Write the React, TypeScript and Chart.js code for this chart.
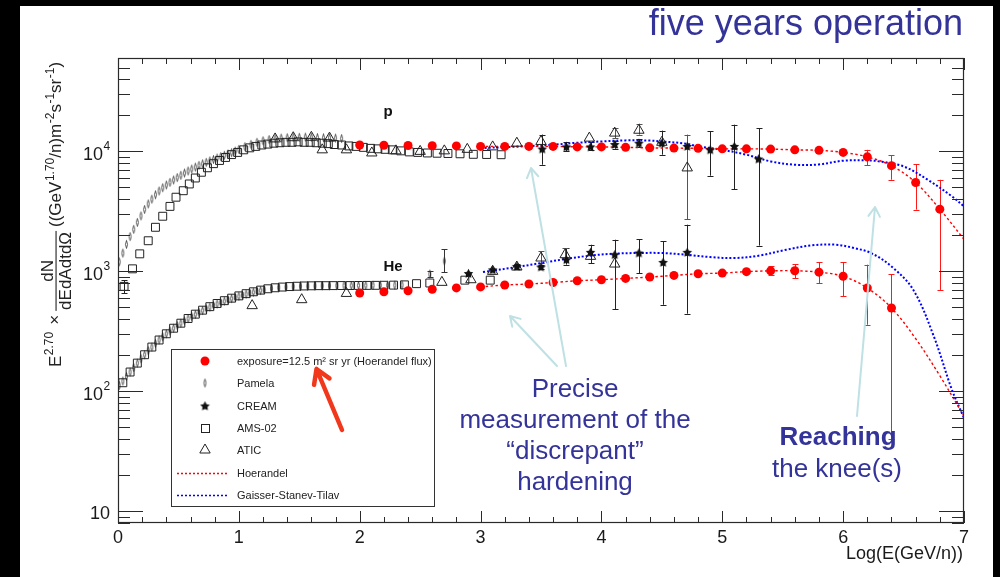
import React, { useEffect, useRef } from 'react';
import { Chart, registerables } from 'chart.js';

Chart.register(...registerables);

const FONT = '"Liberation Sans", Arial, Helvetica, sans-serif';

// ---------- simulated five-year measurement (Hoerandel flux), x = log10(E / GeV per nucleon)
const exposureLogE = [2.0, 2.2, 2.4, 2.6, 2.8, 3.0, 3.2, 3.4, 3.6, 3.8, 4.0, 4.2, 4.4, 4.6, 4.8, 5.0, 5.2, 5.4, 5.6, 5.8, 6.0, 6.2, 6.4, 6.6, 6.8];
const protonExposure = [11300, 11250, 11200, 11150, 11100, 11000, 11000, 11000, 11000, 10900, 10900, 10800, 10700, 10650, 10600, 10500, 10500, 10450, 10300, 10200, 9800, 9000, 7600, 5500, 3300];
const protonExposureErrLogE = [6.0, 6.2, 6.4, 6.6, 6.8];
const protonExposureErrLow = [9500, 7640, 5800, 3270, 700];
const protonExposureErrHigh = [10100, 10300, 9260, 7840, 5800];

const heliumExposureLogE = [2.0, 2.2, 2.4, 2.6, 2.8, 3.0, 3.2, 3.4, 3.6, 3.8, 4.0, 4.2, 4.4, 4.6, 4.8, 5.0, 5.2, 5.4, 5.6, 5.8, 6.0, 6.2, 6.4];
const heliumExposure = [660, 675, 690, 710, 728, 742, 770, 784, 808, 835, 852, 874, 897, 925, 955, 968, 995, 1010, 1012, 985, 910, 727, 495];
const heliumExposureErrLogE = [5.2, 5.4, 5.6, 5.8, 6.0, 6.2, 6.4];
const heliumExposureErrLow = [965, 938, 880, 800, 619, 359, 40];
const heliumExposureErrHigh = [1030, 1100, 1151, 1196, 1196, 1137, 950];

// ---------- Pamela
const pamelaProtonLogE = [0.01, 0.04, 0.07, 0.10, 0.13, 0.16, 0.19, 0.22, 0.25, 0.28, 0.31, 0.34, 0.37, 0.40, 0.43, 0.46, 0.49, 0.52, 0.55, 0.58, 0.61, 0.64, 0.67, 0.70, 0.73, 0.76, 0.79, 0.82, 0.85, 0.88, 0.91, 0.94, 0.97, 1.00, 1.05, 1.10, 1.15, 1.20, 1.25, 1.30, 1.35, 1.40, 1.45, 1.50, 1.55, 1.60, 1.65, 1.70, 1.75, 1.80, 1.85];
const pamelaProton = [1200, 1420, 1680, 1950, 2240, 2560, 2900, 3280, 3650, 4000, 4350, 4680, 4980, 5250, 5520, 5780, 6050, 6320, 6600, 6870, 7130, 7400, 7650, 7880, 8100, 8330, 8560, 8800, 9040, 9280, 9520, 9760, 10050, 10400, 10950, 11450, 11900, 12250, 12550, 12750, 12900, 13000, 13100, 13100, 13150, 13100, 13050, 13000, 13000, 12900, 12800];

const pamelaHeliumLogE = [0.01, 0.04, 0.07, 0.10, 0.13, 0.16, 0.19, 0.22, 0.25, 0.28, 0.31, 0.34, 0.37, 0.40, 0.43, 0.46, 0.49, 0.52, 0.55, 0.58, 0.61, 0.64, 0.67, 0.70, 0.73, 0.76, 0.79, 0.82, 0.85, 0.88, 0.91, 0.94, 0.97, 1.00, 1.03, 1.06, 1.09, 1.12, 1.15, 1.18, 1.21, 1.27, 1.33, 1.39, 1.45, 1.51, 1.57, 1.63, 1.69, 1.75, 1.81, 1.87, 1.93, 1.99, 2.05, 2.11, 2.17, 2.23, 2.29, 2.35, 2.58, 2.70];
const pamelaHelium = [112, 122, 133, 145, 158, 172, 187, 202, 218, 234, 251, 268, 285, 302, 319, 336, 353, 370, 387, 404, 421, 438, 455, 472, 488, 504, 520, 535, 550, 565, 579, 593, 607, 620, 633, 646, 658, 670, 681, 692, 702, 720, 733, 742, 748, 752, 755, 757, 759, 760, 761, 762, 762, 763, 764, 765, 766, 767, 768, 770, 950, 1220];
const pamelaHeliumErrLogE = [2.58, 2.70];
const pamelaHeliumErrLow = [900, 979];
const pamelaHeliumErrHigh = [1010, 1527];

// ---------- CREAM
const creamProtonLogE = [3.51, 3.71, 3.91, 4.11, 4.31, 4.50, 4.71, 4.90, 5.10, 5.30];
const creamProton = [10460, 10900, 10900, 11400, 11700, 11700, 11000, 10300, 11000, 8630];
const creamProtonErrLogE = [3.51, 3.71, 3.91, 4.11, 4.31, 4.50, 4.90, 5.10, 5.30];
const creamProtonErrLow = [7740, 10000, 10200, 10500, 10800, 9380, 6270, 4850, 1640];
const creamProtonErrHigh = [13800, 12000, 11900, 12300, 12600, 14900, 14700, 16700, 15600];

const creamHeliumLogE = [2.90, 3.10, 3.30, 3.50, 3.71, 3.91, 4.11, 4.31, 4.51, 4.71];
const creamHelium = [960, 1030, 1100, 1087, 1250, 1440, 1377, 1422, 1188, 1440];
const creamHeliumErrLogE = [3.30, 3.50, 3.71, 3.91, 4.11, 4.31, 4.51, 4.71];
const creamHeliumErrLow = [1040, 1040, 1137, 1173, 486, 969, 527, 444];
const creamHeliumErrHigh = [1160, 1140, 1564, 1668, 1836, 1860, 1778, 2450];

// ---------- AMS-02
const amsProtonLogE = [0.05, 0.12, 0.18, 0.25, 0.31, 0.37, 0.43, 0.48, 0.54, 0.59, 0.64, 0.69, 0.74, 0.79, 0.84, 0.89, 0.94, 0.99, 1.04, 1.09, 1.14, 1.19, 1.24, 1.29, 1.34, 1.39, 1.44, 1.49, 1.54, 1.59, 1.64, 1.69, 1.74, 1.79, 1.85, 1.91, 1.97, 2.03, 2.09, 2.15, 2.21, 2.27, 2.34, 2.41, 2.48, 2.56, 2.64, 2.73, 2.83, 2.94, 3.05, 3.17];
const amsProton = [750, 1050, 1400, 1800, 2330, 2880, 3480, 4150, 4700, 5350, 6000, 6700, 7300, 7900, 8400, 8900, 9400, 9800, 10300, 10700, 11000, 11300, 11500, 11700, 11800, 11900, 11900, 12000, 11900, 11900, 11800, 11700, 11600, 11400, 11300, 11100, 11000, 10800, 10600, 10500, 10400, 10300, 10100, 9900, 9800, 9700, 9650, 9600, 9550, 9450, 9420, 9380];
const amsProtonErrLogE = [0.05];
const amsProtonErrLow = [660];
const amsProtonErrHigh = [840];

const amsHeliumLogE = [0.04, 0.10, 0.16, 0.22, 0.28, 0.34, 0.40, 0.46, 0.52, 0.58, 0.64, 0.70, 0.76, 0.82, 0.88, 0.94, 1.00, 1.06, 1.12, 1.18, 1.24, 1.30, 1.36, 1.42, 1.48, 1.54, 1.60, 1.66, 1.72, 1.78, 1.85, 1.92, 1.99, 2.06, 2.13, 2.20, 2.28, 2.37, 2.47, 2.58, 2.87, 3.08];
const amsHelium = [118, 145, 172, 202, 234, 268, 302, 336, 370, 405, 440, 475, 508, 540, 570, 598, 625, 652, 676, 698, 716, 730, 740, 747, 752, 756, 758, 760, 760, 761, 762, 762, 763, 764, 765, 766, 768, 772, 790, 800, 845, 845];

// ---------- ATIC
const aticProtonLogE = [1.30, 1.45, 1.60, 1.69, 1.75, 1.89, 2.10, 2.30, 2.50, 2.70, 2.89, 3.10, 3.30, 3.50, 3.90, 4.11, 4.31, 4.50, 4.71];
const aticProton = [12700, 13000, 13100, 10300, 12900, 10300, 9700, 10100, 10000, 10100, 10400, 10900, 11700, 12100, 12900, 14200, 15000, 11900, 7280];
const aticProtonErrLogE = [4.11, 4.31, 4.71];
const aticProtonErrLow = [12900, 13800, 2710];
const aticProtonErrHigh = [15600, 17000, 13800];

const aticHeliumLogE = [1.11, 1.52, 1.89, 2.68, 2.92, 3.10, 3.30, 3.50, 3.70, 3.91, 4.11];
const aticHelium = [518, 581, 655, 810, 852, 1000, 1087, 1292, 1377, 1334, 1151];
const aticHeliumErrLogE = [3.50, 3.70];
const aticHeliumErrLow = [1173, 1270];
const aticHeliumErrHigh = [1468, 1560];

// ---------- model curves
const hoerandelProtonLogE = [3.0, 3.2, 3.4, 3.6, 3.8, 4.0, 4.2, 4.4, 4.6, 4.8, 5.0, 5.2, 5.4, 5.6, 5.8, 6.0, 6.2, 6.4, 6.6, 6.8, 7.0];
const hoerandelProton = [11000, 11000, 11000, 11000, 10900, 10900, 10800, 10700, 10650, 10600, 10500, 10500, 10450, 10300, 10200, 9800, 9000, 7600, 5500, 3300, 1850];
const hoerandelHeliumLogE = [3.0, 3.2, 3.4, 3.6, 3.8, 4.0, 4.2, 4.4, 4.6, 4.8, 5.0, 5.2, 5.4, 5.6, 5.8, 6.0, 6.2, 6.4, 6.6, 6.8, 7.0];
const hoerandelHelium = [742, 770, 784, 808, 835, 852, 874, 897, 925, 955, 968, 995, 1010, 1012, 985, 910, 727, 495, 275, 135, 62];

const gstProtonLogE = [3.0, 3.3, 3.6, 3.8, 4.0, 4.2, 4.4, 4.5, 4.7, 4.8, 5.0, 5.2, 5.4, 5.6, 5.8, 6.0, 6.2, 6.3, 6.5, 6.7, 6.9, 7.0];
const gstProton = [10660, 10950, 11370, 11800, 12100, 12350, 12300, 12100, 11600, 11000, 10300, 9380, 8250, 7740, 7780, 8360, 8420, 8250, 7500, 5800, 4220, 3480];
const gstHeliumLogE = [3.02, 3.3, 3.5, 3.7, 3.9, 4.1, 4.3, 4.5, 4.7, 4.9, 5.1, 5.3, 5.53, 5.74, 5.94, 6.09, 6.23, 6.4, 6.58, 6.75, 6.9, 7.0];
const gstHelium = [987, 1087, 1173, 1267, 1351, 1403, 1422, 1422, 1377, 1316, 1291, 1351, 1515, 1647, 1668, 1565, 1422, 1100, 703, 288, 103, 60];

// ---------- axes and text
const xTickLabels = ['0', '1', '2', '3', '4', '5', '6', '7'];
const yTickValues = [10, 100, 1000, 10000];
const yTickExponents = ['', '2', '3', '4'];
const legendLabels = ['exposure=12.5 m\u00B2 sr yr (Hoerandel flux)', 'Pamela', 'CREAM', 'AMS-02', 'ATIC', 'Hoerandel', 'Gaisser-Stanev-Tilav'];
const hardeningNote = ['Precise', 'measurement of the', '\u201Cdiscrepant\u201D', 'hardening'];

const pts = (xs: number[], ys: number[]) => xs.map((x, i) => ({ x, y: ys[i] }));

function starPath(g: CanvasRenderingContext2D, cx: number, cy: number, ro: number, ri: number) {
  g.beginPath();
  for (let i = 0; i < 10; i++) {
    const r = i % 2 === 0 ? ro : ri;
    const a = -Math.PI / 2 + (i * Math.PI) / 5;
    const px = cx + r * Math.cos(a);
    const py = cy + r * Math.sin(a);
    if (i === 0) g.moveTo(px, py); else g.lineTo(px, py);
  }
  g.closePath();
}

// thin open lozenge used for the Pamela points
function makePamelaMarker() {
  const c = document.createElement('canvas');
  c.width = 7; c.height = 11;
  const g = c.getContext('2d')!;
  g.strokeStyle = '#333';
  g.lineWidth = 0.8;
  g.beginPath();
  g.moveTo(3.5, 1.5);
  g.quadraticCurveTo(5.6, 5.5, 3.5, 9.5);
  g.quadraticCurveTo(1.4, 5.5, 3.5, 1.5);
  g.stroke();
  return c;
}

// filled star used for the CREAM points
function makeCreamMarker() {
  const c = document.createElement('canvas');
  c.width = 11; c.height = 11;
  const g = c.getContext('2d')!;
  g.fillStyle = '#111';
  starPath(g, 5.5, 5.8, 5, 2.6);
  g.fill();
  return c;
}

const pamelaMarker = makePamelaMarker();
const creamMarker = makeCreamMarker();

type ErrSet = { x: number[]; lo: number[]; hi: number[]; color: string };
const errorSets: ErrSet[] = [
  { x: amsProtonErrLogE, lo: amsProtonErrLow, hi: amsProtonErrHigh, color: '#222' },
  { x: pamelaHeliumErrLogE, lo: pamelaHeliumErrLow, hi: pamelaHeliumErrHigh, color: '#333' },
  { x: creamProtonErrLogE, lo: creamProtonErrLow, hi: creamProtonErrHigh, color: '#222' },
  { x: creamHeliumErrLogE, lo: creamHeliumErrLow, hi: creamHeliumErrHigh, color: '#222' },
  { x: aticProtonErrLogE, lo: aticProtonErrLow, hi: aticProtonErrHigh, color: '#555' },
  { x: aticHeliumErrLogE, lo: aticHeliumErrLow, hi: aticHeliumErrHigh, color: '#555' },
  { x: protonExposureErrLogE, lo: protonExposureErrLow, hi: protonExposureErrHigh, color: '#ff1a1a' },
  { x: heliumExposureErrLogE, lo: heliumExposureErrLow, hi: heliumExposureErrHigh, color: '#ff1a1a' },
];

function arrow(ctx: CanvasRenderingContext2D, x0: number, y0: number, x1: number, y1: number, color: string, width: number, head: number) {
  const a = Math.atan2(y1 - y0, x1 - x0);
  ctx.save();
  ctx.strokeStyle = color;
  ctx.lineWidth = width;
  ctx.lineCap = 'round';
  ctx.lineJoin = 'round';
  ctx.beginPath();
  ctx.moveTo(x0, y0);
  ctx.lineTo(x1, y1);
  ctx.moveTo(x1 - head * Math.cos(a - 0.55), y1 - head * Math.sin(a - 0.55));
  ctx.lineTo(x1, y1);
  ctx.lineTo(x1 - head * Math.cos(a + 0.55), y1 - head * Math.sin(a + 0.55));
  ctx.stroke();
  ctx.restore();
}

function drawYTitle(ctx: CanvasRenderingContext2D) {
  const main = `17px ${FONT}`;
  const sup = `12px ${FONT}`;
  ctx.save();
  ctx.translate(61, 367);
  ctx.rotate(-Math.PI / 2);
  ctx.fillStyle = '#222';
  ctx.textAlign = 'left';
  ctx.textBaseline = 'alphabetic';
  let x = 0;
  const put = (t: string, font: string, dy: number, gap = 0) => {
    ctx.font = font;
    ctx.fillText(t, x, dy);
    x += ctx.measureText(t).width + gap;
  };
  put('E', main, 0, 0.5);
  put('2.70', sup, -8, 0);
  x += 7;
  put('\u00D7', main, -1, 0);
  x += 4;
  ctx.font = main;
  const wn = ctx.measureText('dN').width;
  const wd = ctx.measureText('dEdAdtd\u03A9').width;
  const fw = Math.max(wn, wd) + 2;
  ctx.fillText('dN', x + (fw - wn) / 2, -8);
  ctx.fillText('dEdAdtd\u03A9', x + (fw - wd) / 2, 10);
  ctx.fillRect(x, -5.5, fw, 1.1);
  x += fw + 4;
  put('((GeV', main, 0, 0.5);
  put('1.70', sup, -7, 0);
  put('/n)m', main, 0, 0.5);
  put('-2', sup, -7, 0);
  put('s', main, 0, 0.5);
  put('-1', sup, -7, 0);
  put('sr', main, 0, 0.5);
  put('-1', sup, -7, 0);
  put(')', main, 0, 0);
  ctx.restore();
}

const slidePlugin = {
  id: 'slideDecor',
  beforeDraw(chart: any) {
    const ctx = chart.ctx as CanvasRenderingContext2D;
    ctx.save();
    ctx.fillStyle = '#000';
    ctx.fillRect(0, 0, 1000, 577);
    ctx.fillStyle = '#fff';
    ctx.fillRect(20, 6, 973, 571);
    ctx.restore();
  },
  beforeDatasetsDraw(chart: any) {
    const ctx = chart.ctx as CanvasRenderingContext2D;
    const xs = chart.scales.x;
    const ys = chart.scales.y;
    const ca = chart.chartArea;
    ctx.save();
    ctx.beginPath();
    ctx.rect(ca.left, ca.top, ca.right - ca.left, ca.bottom - ca.top);
    ctx.clip();
    ctx.lineWidth = 1;
    for (const s of errorSets) {
      ctx.strokeStyle = s.color;
      ctx.beginPath();
      s.x.forEach((xv, i) => {
        const px = Math.round(xs.getPixelForValue(xv)) + 0.5;
        const pl = ys.getPixelForValue(s.lo[i]);
        const ph = ys.getPixelForValue(s.hi[i]);
        ctx.moveTo(px, pl); ctx.lineTo(px, ph);
        ctx.moveTo(px - 3, Math.round(pl) + 0.5); ctx.lineTo(px + 3, Math.round(pl) + 0.5);
        ctx.moveTo(px - 3, Math.round(ph) + 0.5); ctx.lineTo(px + 3, Math.round(ph) + 0.5);
      });
      ctx.stroke();
    }
    ctx.restore();
  },
  afterDraw(chart: any) {
    const ctx = chart.ctx as CanvasRenderingContext2D;
    const xs = chart.scales.x;
    const ys = chart.scales.y;
    const { left, right, top, bottom } = chart.chartArea;
    ctx.save();

    // frame
    ctx.strokeStyle = '#2a2a2a';
    ctx.lineWidth = 1.2;
    ctx.strokeRect(left + 0.5, top + 0.5, right - left - 1, bottom - top - 1);

    // x ticks (bottom and top), major every 1, minor every 0.2
    ctx.lineWidth = 1;
    ctx.beginPath();
    for (let i = 0; i <= 35; i++) {
      const px = Math.round(xs.getPixelForValue(i * 0.2)) + 0.5;
      const len = i % 5 === 0 ? 12 : 6;
      ctx.moveTo(px, bottom); ctx.lineTo(px, bottom - len);
      ctx.moveTo(px, top); ctx.lineTo(px, top + len);
    }
    // y ticks (left and right), decades and 2..9
    for (let d = 0; d <= 4; d++) {
      for (let m = 1; m <= 9; m++) {
        const v = m * Math.pow(10, d);
        if (v < ys.min || v > ys.max) continue;
        const py = Math.round(ys.getPixelForValue(v)) + 0.5;
        const len = m === 1 ? 25 : 12;
        ctx.moveTo(left, py); ctx.lineTo(left + len, py);
        ctx.moveTo(right, py); ctx.lineTo(right - len, py);
      }
    }
    ctx.stroke();

    // tick labels
    ctx.fillStyle = '#1a1a1a';
    ctx.font = `18px ${FONT}`;
    ctx.textAlign = 'center';
    ctx.textBaseline = 'alphabetic';
    xTickLabels.forEach((t, i) => ctx.fillText(t, xs.getPixelForValue(i), 543));
    yTickValues.forEach((v, i) => {
      const py = ys.getPixelForValue(v);
      const e = yTickExponents[i];
      ctx.textAlign = 'right';
      if (e) {
        ctx.font = `18px ${FONT}`;
        ctx.fillText('10', 103, py + 9);
        ctx.font = `12px ${FONT}`;
        ctx.textAlign = 'left';
        ctx.fillText(e, 103.5, py - 1);
      } else {
        ctx.font = `18px ${FONT}`;
        ctx.fillText('10', 110, py + 8);
      }
    });

    // axis titles
    ctx.font = `18px ${FONT}`;
    ctx.textAlign = 'right';
    ctx.fillText('Log(E(GeV/n))', 963, 559);
    drawYTitle(ctx);

    // slide title
    ctx.fillStyle = '#333399';
    ctx.font = `36px ${FONT}`;
    ctx.textAlign = 'right';
    ctx.fillText('five years operation', 963, 35);

    // species labels
    ctx.fillStyle = '#111';
    ctx.font = `bold 15px ${FONT}`;
    ctx.textAlign = 'center';
    ctx.fillText('p', 388, 116);
    ctx.fillText('He', 393, 271);

    // legend
    const lx0 = 171, ly0 = 349, lx1 = 434, ly1 = 506;
    ctx.fillStyle = '#fff';
    ctx.fillRect(lx0, ly0, lx1 - lx0, ly1 - ly0);
    ctx.strokeStyle = '#333';
    ctx.lineWidth = 1;
    ctx.strokeRect(lx0 + 0.5, ly0 + 0.5, lx1 - lx0, ly1 - ly0);
    const rowY = [361, 383, 406, 428, 450, 473, 495];
    const mx = 205;
    ctx.fillStyle = '#ff0000';
    ctx.beginPath(); ctx.arc(mx, rowY[0], 4.5, 0, Math.PI * 2); ctx.fill();
    ctx.drawImage(pamelaMarker, mx - pamelaMarker.width / 2, rowY[1] - pamelaMarker.height / 2);
    ctx.drawImage(creamMarker, mx - creamMarker.width / 2, rowY[2] - creamMarker.height / 2);
    ctx.strokeStyle = '#222';
    ctx.strokeRect(mx - 4 + 0.5, rowY[3] - 4 + 0.5, 8, 8);
    ctx.beginPath();
    ctx.moveTo(mx, rowY[4] - 6); ctx.lineTo(mx + 5.2, rowY[4] + 3); ctx.lineTo(mx - 5.2, rowY[4] + 3); ctx.closePath();
    ctx.stroke();
    ctx.lineWidth = 1.3;
    ctx.setLineDash([2, 2]);
    ctx.strokeStyle = '#ff0000';
    ctx.beginPath(); ctx.moveTo(177, rowY[5] + 0.5); ctx.lineTo(227, rowY[5] + 0.5); ctx.stroke();
    ctx.strokeStyle = '#0000ff';
    ctx.beginPath(); ctx.moveTo(177, rowY[6] + 0.5); ctx.lineTo(227, rowY[6] + 0.5); ctx.stroke();
    ctx.setLineDash([]);
    ctx.fillStyle = '#222';
    ctx.font = `11px ${FONT}`;
    ctx.textAlign = 'left';
    ctx.textBaseline = 'middle';
    legendLabels.forEach((t, i) => ctx.fillText(t, 237, rowY[i] + 0.5));

    // pointer arrows
    const cyan = '#bfe1e4';
    arrow(ctx, 566, 366, 531, 168, cyan, 2, 11);
    arrow(ctx, 557, 366, 510, 316, cyan, 2, 11);
    arrow(ctx, 857, 416, 875, 207, cyan, 2, 11);
    arrow(ctx, 342, 430, 316.5, 369, '#f2381c', 4.5, 16);

    // notes
    ctx.fillStyle = '#333399';
    ctx.textBaseline = 'alphabetic';
    ctx.textAlign = 'center';
    ctx.font = `26px ${FONT}`;
    const noteY = [397, 428, 459, 490];
    hardeningNote.forEach((t, i) => ctx.fillText(t, 575, noteY[i]));
    ctx.font = `bold 26px ${FONT}`;
    ctx.fillText('Reaching', 838, 445);
    ctx.font = `26px ${FONT}`;
    ctx.fillText('the knee(s)', 837, 477);

    ctx.restore();
  },
};

export default function App() {
  const ref = useRef<HTMLCanvasElement>(null);
  useEffect(() => {
    const canvas = ref.current!;
    const redDots = { pointStyle: 'circle', pointRadius: 4.5, pointBackgroundColor: '#ff0000', pointBorderColor: '#ff0000', pointBorderWidth: 0, showLine: false };
    const openSquares = { pointStyle: 'rect', pointRadius: 5.6, pointBackgroundColor: 'rgba(0,0,0,0)', pointBorderColor: '#222', pointBorderWidth: 1, showLine: false };
    const openTriangles = { pointStyle: 'triangle', pointRadius: 6, pointBackgroundColor: 'rgba(0,0,0,0)', pointBorderColor: '#222', pointBorderWidth: 1, showLine: false };
    const pamelaPts = { pointStyle: pamelaMarker, pointRadius: 4, showLine: false };
    const creamPts = { pointStyle: creamMarker, pointRadius: 5, showLine: false };
    const curve = (color: string, width: number, dash: number[]) => ({
      showLine: true, pointRadius: 0, borderColor: color, borderWidth: width, borderDash: dash, tension: 0.35, fill: false,
    });
    const chart = new Chart(canvas, {
      type: 'scatter',
      data: {
        datasets: [
          { label: 'exposure p', data: pts(exposureLogE, protonExposure), ...redDots, order: 0 },
          { label: 'exposure He', data: pts(heliumExposureLogE, heliumExposure), ...redDots, order: 0 },
          { label: 'CREAM p', data: pts(creamProtonLogE, creamProton), ...creamPts, order: 1 },
          { label: 'CREAM He', data: pts(creamHeliumLogE, creamHelium), ...creamPts, order: 1 },
          { label: 'ATIC p', data: pts(aticProtonLogE, aticProton), ...openTriangles, order: 2 },
          { label: 'ATIC He', data: pts(aticHeliumLogE, aticHelium), ...openTriangles, order: 2 },
          { label: 'AMS-02 p', data: pts(amsProtonLogE, amsProton), ...openSquares, order: 3 },
          { label: 'AMS-02 He', data: pts(amsHeliumLogE, amsHelium), ...openSquares, order: 3 },
          { label: 'Pamela p', data: pts(pamelaProtonLogE, pamelaProton), ...pamelaPts, order: 4 },
          { label: 'Pamela He', data: pts(pamelaHeliumLogE, pamelaHelium), ...pamelaPts, order: 4 },
          { label: 'Hoerandel p', data: pts(hoerandelProtonLogE, hoerandelProton), ...curve('#ff0000', 1.4, [2.5, 2.5]), order: 5 },
          { label: 'Hoerandel He', data: pts(hoerandelHeliumLogE, hoerandelHelium), ...curve('#ff0000', 1.4, [2.5, 2.5]), order: 5 },
          { label: 'GST p', data: pts(gstProtonLogE, gstProton), ...curve('#0000ff', 2, [2, 2]), order: 6 },
          { label: 'GST He', data: pts(gstHeliumLogE, gstHelium), ...curve('#0000ff', 2, [2, 2]), order: 6 },
        ] as any,
      },
      options: {
        animation: false,
        responsive: false,
        devicePixelRatio: 1,
        events: [],
        layout: { padding: { left: 118, top: 58, right: 36, bottom: 54 } },
        plugins: { legend: { display: false }, tooltip: { enabled: false } },
        scales: {
          x: { type: 'linear', min: 0, max: 7, display: false },
          y: { type: 'logarithmic', min: 8, max: 60000, display: false },
        },
      },
      plugins: [slidePlugin],
    } as any);
    return () => chart.destroy();
  }, []);
  return (
    <div style={{ position: 'fixed', left: 0, top: 0, width: 1000, height: 577, background: '#000' }}>
      <canvas ref={ref} width={1000} height={577} style={{ display: 'block', width: 1000, height: 577 }} />
    </div>
  );
}
